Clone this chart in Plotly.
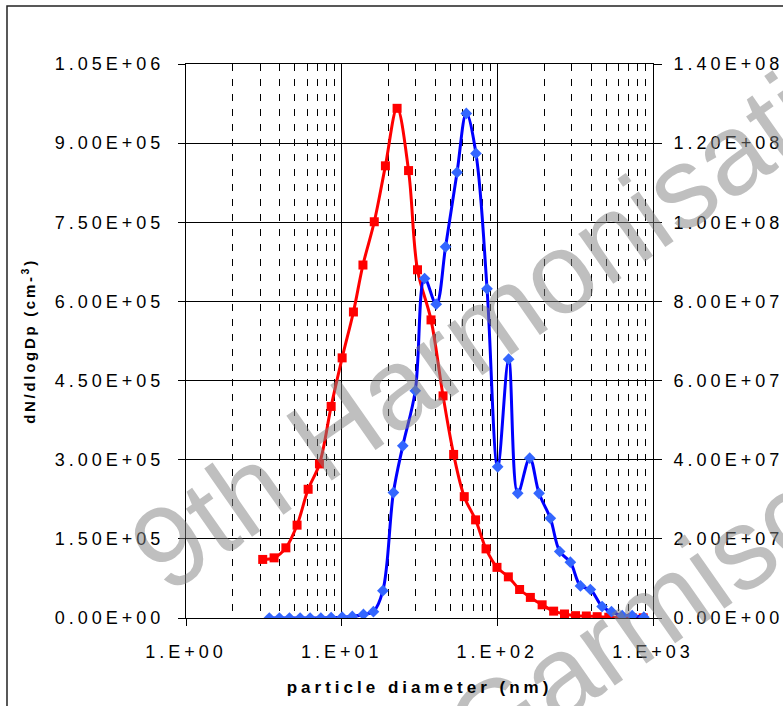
import plotly.graph_objects as go

# ---- data ----
red_dp = [3.11, 3.68, 4.38, 5.17, 6.09, 7.2, 8.56, 10.07, 11.9, 13.7, 16.2, 19.1, 22.7, 26.9,
          30.7, 37.5, 44.8, 52.4, 61.3, 72.5, 84.6, 99.5, 117.7, 139, 163, 194, 230, 270,
          318, 373, 438, 520, 618, 735, 865]
red_dn = [111000, 114000, 133000, 176000, 244000, 292000, 401000, 493000, 580000, 669000,
          751000, 857000, 966000, 848000, 660000, 565000, 421000, 310000, 230000, 186000,
          131000, 96000, 78000, 54000, 39000, 25000, 13000, 7600, 4400, 3800, 2500, 1500,
          1000, 500, 300]

blue_dp = [3.43, 3.98, 4.62, 5.41, 6.27, 7.35, 8.56, 10.07, 11.7, 13.8, 16.0, 18.4, 21.5,
           24.7, 29.7, 34.1, 40.5, 46.5, 55.1, 63.2, 72.9, 85.9, 100.5, 118.2, 135.2, 161.4,
           185.3, 219, 251.6, 294.5, 342, 396, 471, 541, 634, 735, 873]
blue_dn = [0, 0, 0, 0, 0, 0, 1e5, 2e5, 4e5, 9e5, 1.6e6, 6.9e6, 31.7e6, 43.5e6, 57.4e6,
           85.8e6, 79.3e6, 93.8e6, 112.6e6, 127.5e6, 117.4e6, 83.2e6, 38.2e6, 65.4e6,
           31.5e6, 40.4e6, 31.5e6, 25.2e6, 16.8e6, 14.1e6, 8.1e6, 7.2e6, 2.9e6, 1.6e6,
           0.6e6, 0.6e6, 0.2e6]

x_tickvals = [1, 10, 100, 1000]
x_ticktext = ["1.E+00", "1.E+01", "1.E+02", "1.E+03"]
y_tickvals = [0, 150000, 300000, 450000, 600000, 750000, 900000, 1050000]
y_ticktext = ["0.00E+00", "1.50E+05", "3.00E+05", "4.50E+05", "6.00E+05", "7.50E+05",
              "9.00E+05", "1.05E+06"]
y2_tickvals = [0, 2e7, 4e7, 6e7, 8e7, 1e8, 1.2e8, 1.4e8]
y2_ticktext = ["0.00E+00", "2.00E+07", "4.00E+07", "6.00E+07", "8.00E+07", "1.00E+08",
               "1.20E+08", "1.40E+08"]

FONT = "Arial, Liberation Sans, sans-serif"
WM_COLOR = "rgba(128,128,128,0.5)"

fig = go.Figure()
fig.add_trace(go.Scatter(
    x=red_dp, y=red_dn, mode="lines+markers",
    line=dict(color="#ff0000", width=3, shape="spline", smoothing=1),
    marker=dict(symbol="square", size=9, color="#ff0000"),
    showlegend=False))
fig.add_trace(go.Scatter(
    x=blue_dp, y=blue_dn, mode="lines+markers", yaxis="y2",
    line=dict(color="#0000ff", width=3, shape="spline", smoothing=1),
    marker=dict(symbol="diamond", size=9, color="#3366ff"),
    showlegend=False))


def watermark(text, cx, cy):
    return dict(type="rect", xref="paper", yref="paper",
                x0=cx - 0.005, x1=cx + 0.005, y0=cy - 0.005, y1=cy + 0.005,
                line=dict(width=0, color="rgba(0,0,0,0)"), layer="above",
                label=dict(text=text, textangle=-35, textposition="middle center",
                           font=dict(family=FONT, size=115, color=WM_COLOR)))


fig.update_layout(
    width=783, height=706,
    margin=dict(l=186, r=130, t=64, b=88),
    paper_bgcolor="white", plot_bgcolor="white",
    font=dict(family=FONT, size=18, color="black"),
    xaxis=dict(
        type="log", range=[0, 3],
        tickvals=x_tickvals, ticktext=x_ticktext,
        ticks="outside", ticklen=7, tickcolor="black", ticklabelstandoff=10,
        showline=True, linecolor="black", linewidth=1, mirror=True,
        showgrid=True, gridcolor="black", gridwidth=1,
        minor=dict(dtick="D1", showgrid=True, gridcolor="black", gridwidth=1,
                   griddash="7px,8px", ticks=""),
        title=dict(text="<b>particle diameter (nm)</b>", font=dict(size=17), standoff=20),
        zeroline=False,
    ),
    yaxis=dict(
        range=[0, 1050000], tickvals=y_tickvals, ticktext=y_ticktext,
        ticks="outside", ticklen=7, tickcolor="black", ticklabelstandoff=10,
        showline=True, linecolor="black", linewidth=1,
        showgrid=True, gridcolor="black", gridwidth=1, zeroline=False,
        title=dict(text="<b>dN/dlogDp (cm-<sup>3</sup>)</b>", font=dict(size=15), standoff=47),
    ),
    yaxis2=dict(
        range=[0, 1.4e8], tickvals=y2_tickvals, ticktext=y2_ticktext,
        overlaying="y", side="right",
        ticks="outside", ticklen=8, tickcolor="black", ticklabelstandoff=8,
        showline=True, linecolor="black", linewidth=1,
        showgrid=False, zeroline=False,
    ),
    shapes=[
        dict(type="rect", xref="paper", yref="paper",
             x0=-0.3833, x1=1.35, y0=-0.2, y1=1.1047,
             line=dict(color="#222222", width=1.5), layer="below"),
        watermark("9th Harmonisation", 0.715, 0.598),
        watermark("Garmisch", 1.004, 0.0415),
    ],
)

post = """
var gd = document.getElementById('{plot_id}');
gd.querySelectorAll('.xtick text, .ytick text, .y2tick text, .xtitle').forEach(function(t){ t.style.letterSpacing = '4px'; });
gd.querySelectorAll('.ytitle').forEach(function(t){ t.style.letterSpacing = '2.7px'; });
"""

fig.write_html("out.html", post_script=post)
